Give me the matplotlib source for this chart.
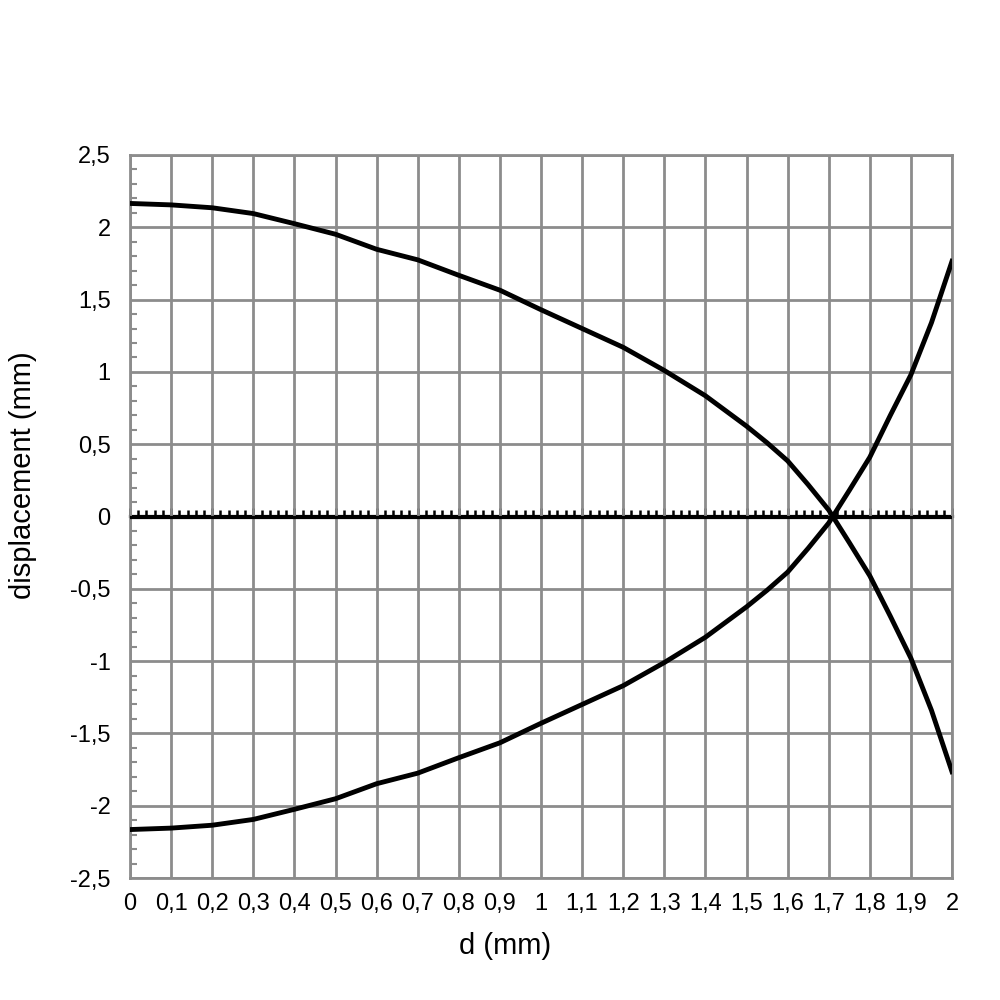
import numpy as np
import matplotlib
matplotlib.use("Agg")
import matplotlib.pyplot as plt
from matplotlib.ticker import MultipleLocator, FuncFormatter, NullFormatter

plt.rcParams['font.family'] = ['Liberation Sans', 'DejaVu Sans']

# values
d = [0, 0.1, 0.2, 0.3, 0.4, 0.5, 0.6, 0.7, 0.8, 0.9, 1.0, 1.1, 1.2, 1.3, 1.4, 1.5,
     1.55, 1.6, 1.65, 1.7, 1.75, 1.8, 1.85, 1.9, 1.95, 2.0]
upper = [2.165, 2.155, 2.135, 2.095, 2.025, 1.952, 1.848, 1.775, 1.668, 1.565, 1.43,
         1.30, 1.17, 1.01, 0.835, 0.625, 0.51, 0.385, 0.22, 0.045, -0.18, -0.41,
         -0.69, -0.98, -1.34, -1.765]
lower = [-2.165, -2.155, -2.135, -2.095, -2.025, -1.952, -1.848, -1.775, -1.668, -1.565,
         -1.43, -1.30, -1.17, -1.01, -0.835, -0.625, -0.51, -0.385, -0.22, -0.045, 0.18,
         0.41, 0.70, 0.98, 1.34, 1.765]

grey = '#8c8c8c'

def comma(v, pos):
    s = ('%.1f' % v).rstrip('0').rstrip('.')
    if s == '-0':
        s = '0'
    return s.replace('.', ',')

fig = plt.figure(figsize=(10, 10), dpi=100)
ax = fig.add_axes([0.13, 0.122, 0.822, 0.723])

ax.plot(d, upper, color='black', lw=3.5, solid_joinstyle='round', zorder=5)
ax.plot(d, lower, color='black', lw=3.5, solid_joinstyle='round', zorder=5)

ax.set_xlim(0, 2)
ax.set_ylim(-2.5, 2.5)
ax.xaxis.set_major_locator(MultipleLocator(0.1))
ax.yaxis.set_major_locator(MultipleLocator(0.5))
ax.yaxis.set_minor_locator(MultipleLocator(0.1))
ax.xaxis.set_major_formatter(FuncFormatter(comma))
ax.yaxis.set_major_formatter(FuncFormatter(comma))
ax.grid(True, which='major', color=grey, lw=2)
ax.set_axisbelow(True)
for s in ax.spines.values():
    s.set_color(grey)
    s.set_linewidth(2)

ax.tick_params(axis='x', which='major', length=0, pad=11, labelsize=17)
ax.tick_params(axis='y', which='major', length=0, pad=14, labelsize=17)
ax.tick_params(axis='y', which='minor', direction='in', length=5, width=1.5, color=grey)

# zero line (black) with small upward ticks
ax.axhline(0, color='black', lw=2.3, zorder=4)
zx = ax.secondary_xaxis(0.5)
for s in zx.spines.values():
    s.set_color('black')
    s.set_linewidth(2.3)
zx.xaxis.set_major_locator(MultipleLocator(0.1))
zx.xaxis.set_minor_locator(MultipleLocator(0.02))
zx.xaxis.set_major_formatter(NullFormatter())
zx.tick_params(which='major', direction='out', length=6, width=2, color='black',
               labeltop=False, labelbottom=False)
zx.tick_params(which='minor', direction='out', length=4, width=1.8, color='black')

ax.set_xlabel('d (mm)', fontsize=21)
ax.set_ylabel('displacement (mm)', fontsize=21)
ax.xaxis.set_label_coords(0.456, -0.075)
ax.yaxis.set_label_coords(-0.113, 0.557)

fig.savefig('out.png', dpi=100)
